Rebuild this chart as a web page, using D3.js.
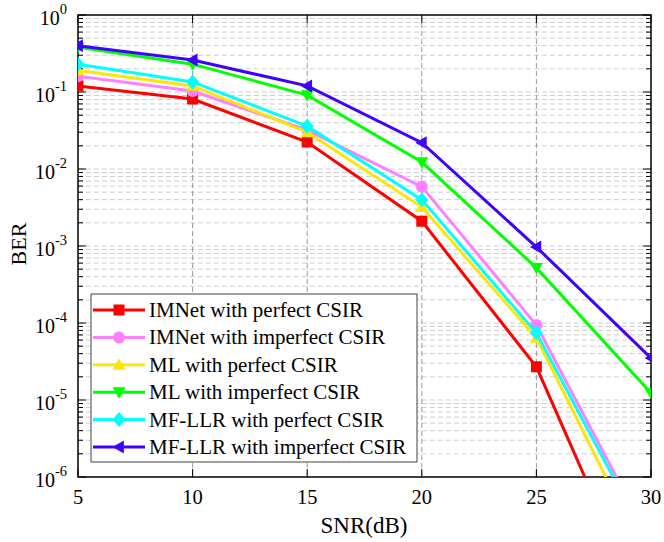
<!DOCTYPE html>
<html><head><meta charset="utf-8">
<script src="https://cdn.jsdelivr.net/npm/d3@7"></script>
<style>body{margin:0;background:#fff}svg{display:block}text{font-family:"Liberation Serif","Times New Roman",serif;fill:#000}</style>
</head><body><svg id="c" width="664" height="542"></svg>
<script>
const snr = [5, 10, 15, 20, 25, 30];
const imnetPerfect   = [0.12, 0.081, 0.0224, 0.0021, 2.7e-5, 1.1e-8];
const imnetImperfect = [0.16, 0.103, 0.032, 0.0059, 9.4e-5, 1.4e-7];
const mlPerfect      = [0.19, 0.12, 0.030, 0.0032, 6.4e-5, 6.7e-8];
const mlImperfect    = [0.38, 0.23, 0.091, 0.0123, 5.2e-4, 1.23e-5];
const mfPerfect      = [0.23, 0.135, 0.036, 0.0040, 7.4e-5, 1.2e-7];
const mfImperfect    = [0.40, 0.26, 0.12, 0.022, 9.7e-4, 3.5e-5];
const seriesNames = ["IMNet with perfect CSIR","IMNet with imperfect CSIR","ML with perfect CSIR","ML with imperfect CSIR","MF-LLR with perfect CSIR","MF-LLR with imperfect CSIR"];
const seriesColors = ["#ff0000","#ff80ff","#ffe600","#00ff00","#00ffff","#4000ff"];
const seriesMarkers = ["square","circle","triUp","triDown","diamond","triLeft"];
const xTicks = [5,10,15,20,25,30];
const yTicks = [1e0,1e-1,1e-2,1e-3,1e-4,1e-5,1e-6];
const yTickExp = ["0","-1","-2","-3","-4","-5","-6"];
const allSeries = [imnetPerfect, imnetImperfect, mlPerfect, mlImperfect, mfPerfect, mfImperfect];

const L=78, R=651, T=15, B=477;
const svg = d3.select("#c");
const x = d3.scaleLinear().domain([5,30]).range([L,R]);
const y = d3.scaleLog().domain([1e-6,1]).range([B,T]);

// grid
const g = svg.append("g");
const minor = [];
for (let e=-6;e<0;e++) for (let k=1;k<10;k++) minor.push(k*Math.pow(10,e));
g.selectAll(".hg").data(minor.filter(v=>v>1e-6)).join("line")
  .attr("x1",L).attr("x2",R).attr("y1",d=>y(d)).attr("y2",d=>y(d))
  .attr("stroke","#cfcfcf").attr("stroke-width",1).attr("stroke-dasharray","5,3");
g.selectAll(".vg").data(xTicks.slice(1,-1)).join("line")
  .attr("x1",d=>x(d)).attr("x2",d=>x(d)).attr("y1",T).attr("y2",B)
  .attr("stroke","#999").attr("stroke-width",1).attr("stroke-dasharray","5,3");

// axes ticks (inside)
const ax = svg.append("g").attr("stroke","#000").attr("stroke-width",1);
const minorTicks = minor.filter(v=>v>1e-6 && Math.abs(Math.log10(v)-Math.round(Math.log10(v)))>1e-9);
[L,R].forEach((xx,i)=>{
  const dir = i===0?1:-1;
  ax.selectAll(null).data(yTicks).join("line").attr("x1",xx).attr("x2",xx+dir*8).attr("y1",d=>y(d)).attr("y2",d=>y(d));
  ax.selectAll(null).data(minorTicks).join("line").attr("x1",xx).attr("x2",xx+dir*5).attr("y1",d=>y(d)).attr("y2",d=>y(d));
});
[B,T].forEach((yy,i)=>{
  const dir = i===0?-1:1;
  ax.selectAll(null).data(xTicks).join("line").attr("x1",d=>x(d)).attr("x2",d=>x(d)).attr("y1",yy).attr("y2",yy+dir*8);
});
svg.append("rect").attr("x",L).attr("y",T).attr("width",R-L).attr("height",B-T)
  .attr("fill","none").attr("stroke","#000").attr("stroke-width",1.5);

// tick labels
svg.selectAll(".xl").data(xTicks).join("text").attr("x",d=>x(d)).attr("y",B+27)
  .attr("text-anchor","middle").attr("font-size",20.5).text(d=>d);
const yl = svg.selectAll(".yl").data(yTicks).join("text").attr("x",L-11).attr("y",d=>y(d)+10)
  .attr("text-anchor","end").attr("font-size",20);
yl.append("tspan").text("10");
yl.append("tspan").attr("dy",-11).attr("font-size",14.5).text((d,i)=>yTickExp[i]);

svg.append("text").attr("x",364).attr("y",533).attr("text-anchor","middle").attr("font-size",23).text("SNR(dB)");
svg.append("text").attr("transform",`translate(25.5,244) rotate(-90)`).attr("text-anchor","middle").attr("font-size",22).text("BER");

// clip
svg.append("clipPath").attr("id","pc").append("rect").attr("x",L).attr("y",T).attr("width",R-L).attr("height",B-T);

function marker(sel, type, color, s) {
  const h=s/2;
  if (type==="square") sel.append("rect").attr("x",-h+1).attr("y",-h+1).attr("width",s-2).attr("height",s-2).attr("fill",color);
  else if (type==="circle") sel.append("circle").attr("r",h-0.5).attr("fill",color);
  else {
    let p;
    if (type==="triUp") p=[[0,-h],[h,h*0.75],[-h,h*0.75]];
    else if (type==="triDown") p=[[0,h],[h,-h*0.75],[-h,-h*0.75]];
    else if (type==="triLeft") p=[[-h,0],[h*0.75,-h],[h*0.75,h]];
    else p=[[0,-h-1],[h,0],[0,h+1],[-h,0]];
    sel.append("polygon").attr("points",p.map(q=>q.join(",")).join(" ")).attr("fill",color);
  }
}

const plot = svg.append("g").attr("clip-path","url(#pc)");
const line = d3.line().x((d,i)=>x(snr[i])).y(d=>y(d));
allSeries.forEach((s,k)=>{
  plot.append("path").datum(s).attr("d",line).attr("fill","none")
    .attr("stroke",seriesColors[k]).attr("stroke-width",3);
  s.forEach((v,i)=>{
    if (v<1e-6) return;
    const m = plot.append("g").attr("transform",`translate(${x(snr[i])},${y(v)})`);
    marker(m, seriesMarkers[k], seriesColors[k], 13);
  });
});

// legend
const lg = svg.append("g");
lg.append("rect").attr("x",91).attr("y",294).attr("width",326).attr("height",168)
  .attr("fill","#fff").attr("stroke","#444").attr("stroke-width",1);
seriesNames.forEach((n,k)=>{
  const yy = 310 + k*27.4;
  lg.append("line").attr("x1",93).attr("x2",145).attr("y1",yy).attr("y2",yy)
    .attr("stroke",seriesColors[k]).attr("stroke-width",3);
  const m = lg.append("g").attr("transform",`translate(119,${yy})`);
  marker(m, seriesMarkers[k], seriesColors[k], 13);
  lg.append("text").attr("x",149).attr("y",yy+7).attr("font-size",21).text(n);
});
</script></body></html>
